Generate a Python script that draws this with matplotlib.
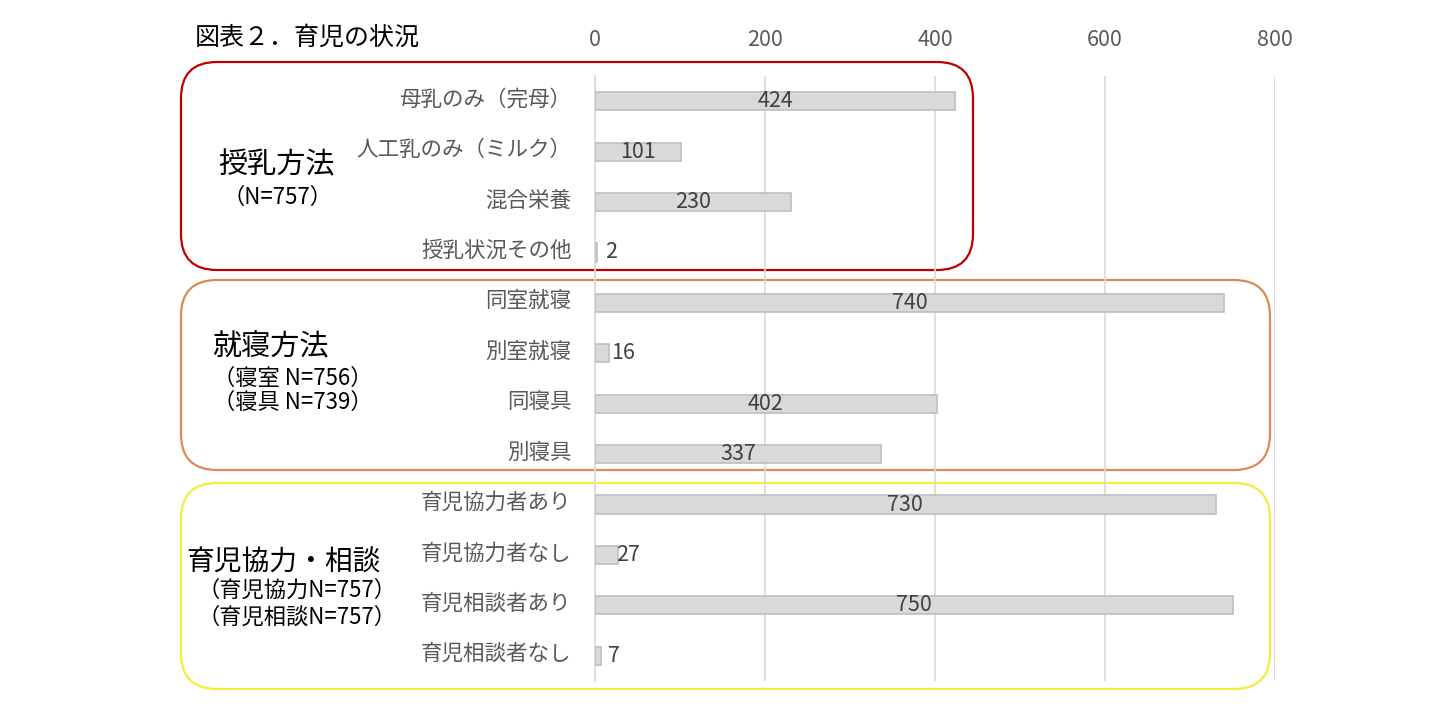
import matplotlib
matplotlib.use("Agg")
import matplotlib.pyplot as plt
import matplotlib.transforms as mtransforms
from matplotlib.patches import FancyBboxPatch
from matplotlib import font_manager

plt.rcParams['font.family'] = ['Noto Sans CJK JP', 'DejaVu Sans']
names = {f.name for f in font_manager.fontManager.ttflist}
num_font = ['Liberation Sans Narrow'] if 'Liberation Sans Narrow' in names else ['Noto Sans CJK JP']
num_font = num_font + ['DejaVu Sans']

categories = ["母乳のみ（完母）", "人工乳のみ（ミルク）", "混合栄養", "授乳状況その他",
              "同室就寝", "別室就寝", "同寝具", "別寝具",
              "育児協力者あり", "育児協力者なし", "育児相談者あり", "育児相談者なし"]
values = [424, 101, 230, 2, 740, 16, 402, 337, 730, 27, 750, 7]
xticks = [0, 200, 400, 600, 800]
title = "図表２．育児の状況"
group_titles = ["授乳方法", "就寝方法", "育児協力・相談"]
group_subs = [["（N=757）"], ["（寝室 N=756）", "（寝具 N=739）"],
              ["（育児協力N=757）", "（育児相談N=757）"]]

W, H = 1454, 716
fig = plt.figure(figsize=(W / 100, H / 100), dpi=100)

ov = fig.add_axes([0, 0, 1, 1], zorder=0)
ov.set_xlim(0, W)
ov.set_ylim(H, 0)
ov.axis('off')

ax = fig.add_axes([595 / W, 1 - 681 / H, 680 / W, (681 - 76) / H], zorder=1)
ax.patch.set_alpha(0)
y = list(range(len(categories)))
ax.barh(y, values, height=0.36, color='#D9D9D9', edgecolor='#BFBFBF', linewidth=1.2, zorder=3)
ax.set_xlim(0, 800)
ax.set_ylim(len(categories) - 0.5, -0.5)
ax.set_xticks(xticks)
ax.set_xticklabels([str(t) for t in xticks], family=num_font)
ax.xaxis.tick_top()
ax.tick_params(axis='x', length=0, pad=18, labelsize=15.5, labelcolor='#595959')
ax.set_yticks(y)
ax.set_yticklabels(categories)
ax.tick_params(axis='y', length=0, pad=17, labelsize=15.5, labelcolor='#595959')
shift = mtransforms.ScaledTranslation(0, 3 / 72, fig.dpi_scale_trans)
for lab in ax.get_yticklabels():
    lab.set_transform(lab.get_transform() + shift)
ax.grid(axis='x', color='#D9D9D9', linewidth=1.2, zorder=0)
for s in ['top', 'right', 'bottom']:
    ax.spines[s].set_visible(False)
ax.spines['left'].set_color('#D9D9D9')
ax.spines['left'].set_linewidth(1.2)

for yi, v in zip(y, values):
    if v < 60:
        ax.annotate(str(v), xy=(v / 2, yi), xytext=(7, 0), textcoords='offset points',
                    ha='left', va='center', fontsize=15.5, color='#404040', zorder=4,
                    family=num_font)
    else:
        ax.text(v / 2, yi, str(v), ha='center', va='center', fontsize=15.5,
                color='#404040', zorder=4, family=num_font)

boxes = [((181, 62, 973, 270), '#C00000'),
         ((181, 280, 1270, 470), '#DC8A52'),
         ((181, 483, 1270, 689), '#F2EE3A')]
for (x0, y0, x1, y1), col in boxes:
    p = FancyBboxPatch((x0, y0), x1 - x0, y1 - y0,
                       boxstyle="round,pad=0,rounding_size=36",
                       fill=False, edgecolor=col, linewidth=1.6)
    ov.add_patch(p)

ov.text(195, 38, title, fontsize=18, ha='left', va='center', color='black')

ov.text(276, 165, group_titles[0], fontsize=21, ha='center', va='center')
ov.text(277, 197, group_subs[0][0], fontsize=16, ha='center', va='center')

ov.text(270, 347, group_titles[1], fontsize=21, ha='center', va='center')
ov.text(293, 378, group_subs[1][0], fontsize=16, ha='center', va='center')
ov.text(293, 402, group_subs[1][1], fontsize=16, ha='center', va='center')

ov.text(283, 563, group_titles[2], fontsize=20, ha='center', va='center')
ov.text(297, 590, group_subs[2][0], fontsize=16, ha='center', va='center')
ov.text(297, 617, group_subs[2][1], fontsize=16, ha='center', va='center')

fig.savefig('out.png', dpi=100)
